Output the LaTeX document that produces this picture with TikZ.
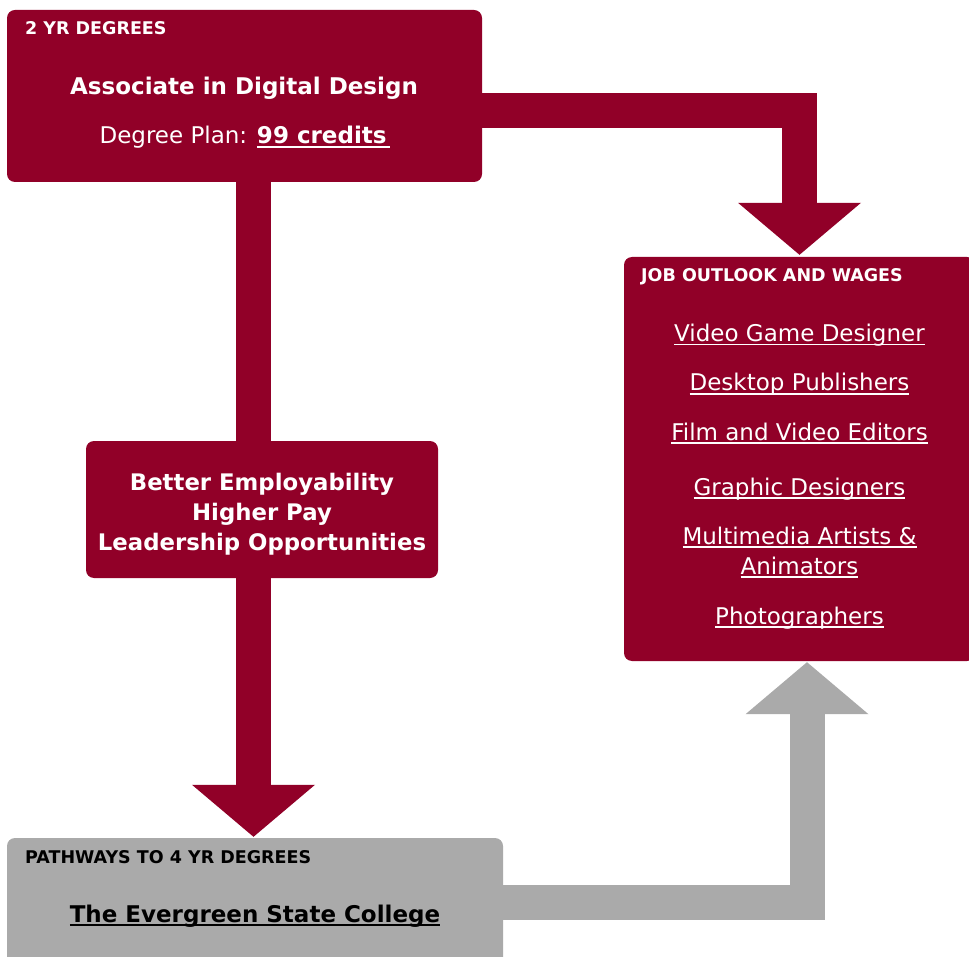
\documentclass[tikz,border=0pt]{standalone}
\usepackage{fontspec}
\setmainfont{DejaVu Sans}
\usetikzlibrary{arrows.meta}

\definecolor{maroon}{RGB}{145,0,40}
\definecolor{greybox}{RGB}{170,170,170}

\newcommand{\hdr}{\fontsize{17.5}{21}\selectfont\bfseries}
\newcommand{\bigtxt}{\fontsize{23}{28}\selectfont}
% underlined link text
\newcommand{\lnk}[1]{\setbox0=\hbox{#1}\rlap{\vrule width\wd0 height -2.4pt depth 4pt}\box0}

\tikzset{
	panel/.style={fill=#1, rounded corners=8pt, inner sep=0pt},
	flow/.style={draw=#1, line width=35pt, line join=miter,
		-{Triangle[length=52pt, width=123pt, line width=0pt]}},
	bar/.style={draw=#1, line width=35pt},
	item/.style={text=white, anchor=base, font=\bigtxt, inner sep=0pt},
	title/.style={anchor=base west, font=\hdr, inner sep=0pt},
}

\begin{document}
\begin{tikzpicture}[x=1pt, y=-1pt]
	\useasboundingbox (0,0) rectangle (969,957);

	% boxes
	\node[panel=maroon, minimum width=475pt, minimum height=172pt] (degree) at (244.5,96) {};
	\node[panel=maroon, minimum width=352pt, minimum height=137pt] (benefit) at (262,509.5) {};
	\node[panel=maroon, minimum width=351pt, minimum height=404pt] (jobs) at (799.5,459) {};
	\node[panel=greybox, minimum width=496pt, minimum height=127pt] (pathway) at (255,901.5) {};
	\coordinate (spine) at (253.5,0);

	% connectors
	\draw[flow=maroon] ([yshift=-14.5pt]degree.east) -| ([yshift=2pt]jobs.north);
	\draw[bar=maroon] (degree.south -| spine) -- (benefit.north -| spine);
	\draw[flow=maroon] (benefit.south -| spine) -- ([yshift=1pt]pathway.north -| spine);
	\draw[flow=greybox] ([yshift=-0.5pt]pathway.east) -| ([xshift=7.5pt,yshift=-1pt]jobs.south);

	% 2 yr degrees
	\node[title, text=white] (degree_title) at (25,35) {2 YR DEGREES};
	\node[item, font=\bigtxt\bfseries] (degree_name) at (244,95) {Associate in Digital Design};
	\node[item] (degree_plan) at (245,144) {Degree Plan: \textbf{\lnk{99 credits\,}}};

	% benefits
	\node[text=white, font=\fontsize{22.8}{30}\selectfont\bfseries, align=center, anchor=base, inner sep=0pt] (benefit_text) at (262,550) {Better Employability~\\ Higher Pay\\ Leadership Opportunities};

	% job outlook
	\node[title, text=white] (jobs_title) at (641,282) {JOB OUTLOOK AND WAGES};
	\node[item] (job1) at (799.5,341.5) {\lnk{Video Game Designer}};
	\node[item] (job2) at (799.5,391) {\lnk{Desktop Publishers}};
	\node[item] (job3) at (799.5,440) {\lnk{Film and Video Editors}};
	\node[item] (job4) at (799.5,495) {\lnk{Graphic Designers}};
	\node[item] (job5) at (799.5,544) {\lnk{Multimedia Artists \&}};
	\node[item] (job6) at (799.5,574) {\lnk{Animators}};
	\node[item] (job7) at (799.5,624) {\lnk{Photographers}};

	% pathways
	\node[title, text=black] (pathway_title) at (25,863) {PATHWAYS TO 4 YR DEGREES};
	\node[anchor=base, text=black, font=\fontsize{23}{28}\selectfont\bfseries, inner sep=0pt] (college) at (255,922) {\lnk{The Evergreen State College}};
\end{tikzpicture}
\end{document}
